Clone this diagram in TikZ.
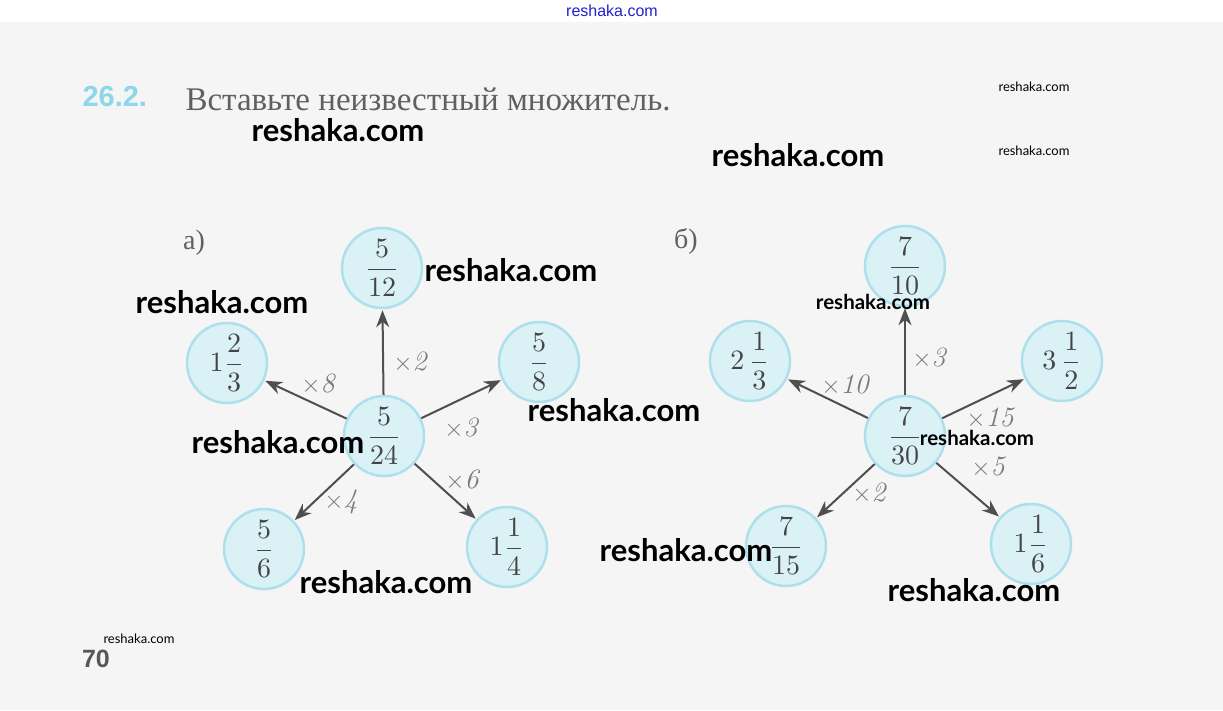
\documentclass[tikz,border=0pt]{standalone}
\usepackage{fontspec}
\usepackage{amsmath}
\newfontfamily\wmfont{Lato}
\newfontfamily\serifcyr{Liberation Serif}
\newfontfamily\headsans{Liberation Sans}
\usetikzlibrary{arrows.meta}
\newcommand\bigfrac[1]{\scalebox{2.8}{$\displaystyle #1$}}
\definecolor{pagegray}{HTML}{F5F5F5}
\definecolor{circfill}{HTML}{DAF1F6}
\definecolor{circline}{HTML}{AEE0EC}
\definecolor{arrgray}{HTML}{4F4F4F}
\definecolor{numgray}{HTML}{444444}
\definecolor{handgray}{HTML}{7A7A7A}
\definecolor{headcyan}{HTML}{8ED6EA}
\definecolor{linkblue}{HTML}{2222CC}
\tikzset{
  x=1pt,y=-1pt,
  fracnode/.style={circle,fill=circfill,draw=circline,line width=2.5pt,minimum size=80pt,inner sep=0pt,text=numgray},
  arr/.style={draw=arrgray,line width=2pt,-{Stealth[length=17pt,width=13pt]},shorten >=1pt,shorten <=0pt},
  mult/.style={text=handgray,font=\fontsize{28}{30}\selectfont\itshape},
  wmbig/.style={text=black,font=\wmfont\bfseries\fontsize{31}{33}\selectfont},
  wmmid/.style={text=black,font=\wmfont\bfseries\fontsize{20.5}{22}\selectfont},
  wmsmall/.style={text=black,font=\wmfont\fontsize{13}{15}\selectfont},
  caption/.style={text=numgray!85,font=\serifcyr\fontsize{28}{30}\selectfont}
}
\begin{document}
\begin{tikzpicture}
\useasboundingbox (0,0) rectangle (1223,710);
\fill[white] (0,0) rectangle (1223,22);
\fill[pagegray] (0,22) rectangle (1223,710);
% header
\node[text=linkblue,font=\headsans\fontsize{16}{18}\selectfont] (link) at (612,11) {reshaka.com};
\node[anchor=west,text=headcyan,font=\headsans\bfseries\fontsize{29}{31}\selectfont] (num) at (79,97) {26.2.};
\node[anchor=west,text=numgray!85,font=\serifcyr\fontsize{33}{35}\selectfont] (title) at (182,99) {Вставьте неизвестный множитель.};
\node[caption] (la) at (194,243) {а)};
\node[caption] (lb) at (686,241) {б)};
% part a
\node[fracnode] (a0) at (384,436) {\bigfrac{\frac{5}{24}}};
\node[fracnode] (a1) at (382,268) {\bigfrac{\frac{5}{12}}};
\node[fracnode] (a2) at (227,363) {\bigfrac{1\frac{2}{3}}};
\node[fracnode] (a3) at (539,362) {\bigfrac{\frac{5}{8}}};
\node[fracnode] (a4) at (264,549) {\bigfrac{\frac{5}{6}}};
\node[fracnode] (a5) at (507,547) {\bigfrac{1\frac{1}{4}}};
\draw[arr] (a0) -- (a1);
\draw[arr] (a0) -- (a2);
\draw[arr] (a0) -- (a3);
\draw[arr] (a0) -- (a4);
\draw[arr] (a0) -- (a5);
\node[mult] (ma1) at (410,362) {$\times$2};
\node[mult] (ma2) at (318,384) {$\times$8};
\node[mult] (ma3) at (461,428) {$\times$3};
\node[mult] (ma5) at (462,480) {$\times$6};
\node[mult] (ma4) at (341,502) {$\times$4};
% part b
\node[fracnode] (b0) at (905,436) {\bigfrac{\frac{7}{30}}};
\node[fracnode] (b1) at (905,266) {\bigfrac{\frac{7}{10}}};
\node[fracnode] (b2) at (750,361) {\bigfrac{2\,\frac{1}{3}}};
\node[fracnode] (b3) at (1062,361) {\bigfrac{3\,\frac{1}{2}}};
\node[fracnode] (b4) at (786,546) {\bigfrac{\frac{7}{15}}};
\node[fracnode] (b5) at (1031,544) {\bigfrac{1\frac{1}{6}}};
\draw[arr] (b0) -- (b1);
\draw[arr] (b0) -- (b2);
\draw[arr] (b0) -- (b3);
\draw[arr] (b0) -- (b4);
\draw[arr] (b0) -- (b5);
\node[mult] (mb1) at (929,358) {$\times$3};
\node[mult] (mb2) at (845,385) {$\times$10};
\node[mult] (mb3) at (990,418) {$\times$15};
\node[mult] (mb5) at (988,467) {$\times$5};
\node[mult] (mb4) at (869,493) {$\times$2};
% page number
\node[text=numgray!90,font=\headsans\bfseries\fontsize{25}{27}\selectfont] (pg) at (96,659) {70};
% watermarks
\node[wmbig] (w1) at (338,130) {reshaka.com};
\node[wmbig] (w2) at (798,155) {reshaka.com};
\node[wmbig] (w3) at (511,270) {reshaka.com};
\node[wmbig] (w4) at (222,302) {reshaka.com};
\node[wmbig] (w5) at (614,410) {reshaka.com};
\node[wmbig] (w6) at (278,442) {reshaka.com};
\node[wmbig] (w7) at (386,582) {reshaka.com};
\node[wmbig] (w8) at (686,550) {reshaka.com};
\node[wmbig] (w9) at (974,590) {reshaka.com};
\node[wmmid] (w10) at (873,302) {reshaka.com};
\node[wmmid] (w11) at (977,438) {reshaka.com};
\node[wmsmall] (w12) at (1034,87) {reshaka.com};
\node[wmsmall] (w13) at (1034,151) {reshaka.com};
\node[wmsmall] (w14) at (139,639) {reshaka.com};
\end{tikzpicture}
\end{document}
